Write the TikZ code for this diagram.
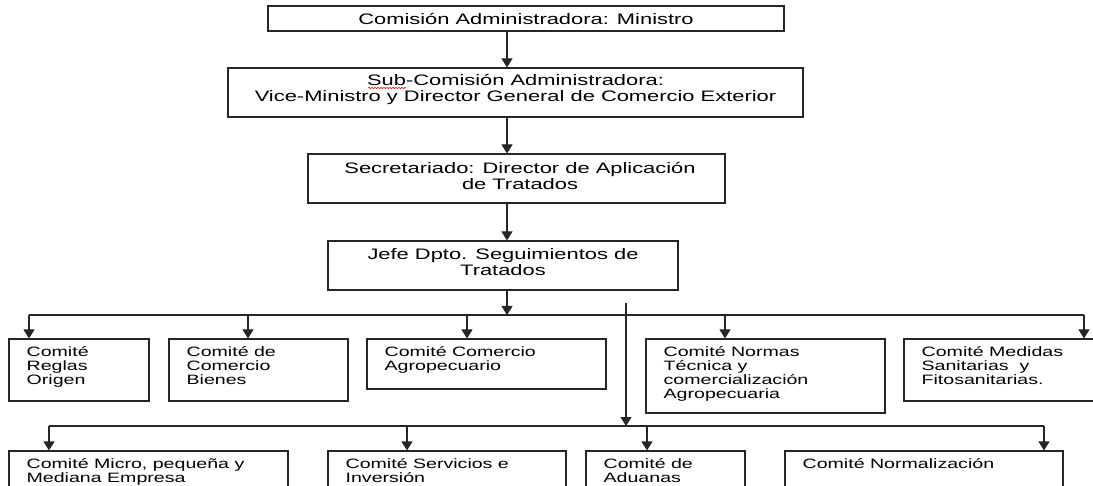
\documentclass[tikz,border=0pt]{standalone}
\usepackage{fontspec}
\setmainfont{Liberation Sans}[FakeStretch=1.44]
\usetikzlibrary{arrows.meta,decorations.pathmorphing}
\begin{document}
\begin{tikzpicture}[x=1pt,y=-1pt,
  box/.style={draw=black!85, line width=1.1pt, inner sep=0pt, minimum width=#1},
  topbox/.style={box=#1},
  toptext/.style={font=\fontsize{15.2}{16}\selectfont, align=center, inner sep=0pt, text=black},
  rowtext/.style={font=\fontsize{13.6}{14}\selectfont, align=left, inner sep=0pt, anchor=north west, text=black},
  conn/.style={draw=black!85, line width=1.1pt},
  arr/.style={conn, -{Triangle[width=11pt,length=9pt]}}]
\useasboundingbox (0,0) rectangle (1093,486);
\clip (0,0) rectangle (1093,486);
\fill[white] (0,0) rectangle (1093,486);

% top chain
\node[topbox=516pt, minimum height=25pt] (t1) at (526,18.5) {};
\node[topbox=575pt, minimum height=49pt] (t2) at (515.5,92.5) {};
\node[topbox=417pt, minimum height=49pt] (t3) at (516.5,178.5) {};
\node[topbox=350pt, minimum height=49pt] (t4) at (503,265.5) {};
\node[toptext] (t1x) at (526,18.5) {Comisión Administradora: Ministro};
\node[toptext] (t2x) at (515.5,89) {Sub-Comisión Administradora:\\Vice-Ministro y Director General de Comercio Exterior};
\node[toptext] (t3x) at (520,176) {Secretariado: Director de Aplicación\\de Tratados};
\node[toptext] (t4x) at (503,262.5) {Jefe Dpto. Seguimientos de\\Tratados};
\draw[red, line width=0.5pt, decorate, decoration={snake, amplitude=0.7pt, segment length=3pt}] (368,88) -- (406,88);

\coordinate (ax) at (507,0);
\draw[arr] (t1.south -| ax) -- (t2.north -| ax);
\draw[arr] (t2.south -| ax) -- (t3.north -| ax);
\draw[arr] (t3.south -| ax) -- (t4.north -| ax);

% first bus
\coordinate (bus1L) at (29,315);
\coordinate (bus1R) at (1084,315);
\draw[conn] (bus1L) -- (bus1R);
\draw[arr] (t4.south -| ax) -- (ax |- bus1L);

% row 1 boxes
\node[box=140pt, minimum height=62pt] (b1) at (79,370) {};
\node[box=179pt, minimum height=62pt] (b2) at (258.5,370) {};
\node[box=239pt, minimum height=50pt] (b3) at (486.5,364) {};
\node[box=239pt, minimum height=74pt] (b4) at (765.5,376) {};
\node[box=192pt, minimum height=62pt] (b5) at (1000,370) {};

\node[rowtext] (b1x) at ([xshift=18pt,yshift=-8pt]b1.north west) {Comité\\Reglas\\Origen};
\node[rowtext] (b2x) at ([xshift=18pt,yshift=-8pt]b2.north west) {Comité de\\Comercio\\Bienes};
\node[rowtext] (b3x) at ([xshift=18pt,yshift=-8pt]b3.north west) {Comité Comercio\\Agropecuario};
\node[rowtext] (b4x) at ([xshift=18pt,yshift=-8pt]b4.north west) {Comité Normas\\Técnica y\\comercialización\\Agropecuaria};
\node[rowtext] (b5x) at ([xshift=18pt,yshift=-8pt]b5.north west) {Comité Medidas\\Sanitarias\ \ y\\Fitosanitarias.};

\coordinate (j2) at (248,315);
\coordinate (j3) at (467,315);
\coordinate (j4) at (725,315);
\draw[arr] (bus1L) -- (bus1L |- b1.north);
\draw[arr] (j2) -- (j2 |- b2.north);
\draw[arr] (j3) -- (j3 |- b3.north);
\draw[arr] (j4) -- (j4 |- b4.north);
\draw[arr] (bus1R) -- (bus1R |- b5.north);

% second bus
\coordinate (v2top) at (626,303);
\coordinate (bus2L) at (49,426);
\coordinate (bus2R) at (1044,426);
\draw[conn] (bus2L) -- (bus2R);
\draw[arr] (v2top) -- (v2top |- bus2L);

% row 2 boxes
\node[box=279pt, minimum height=49pt] (c1) at (148.5,475.5) {};
\node[box=238pt, minimum height=49pt] (c2) at (447,475.5) {};
\node[box=159pt, minimum height=49pt] (c3) at (665.5,475.5) {};
\node[box=278pt, minimum height=49pt] (c4) at (924,475.5) {};

\node[rowtext] (c1x) at ([xshift=18pt,yshift=-8pt]c1.north west) {Comité Micro, pequeña y\\Mediana Empresa};
\node[rowtext] (c2x) at ([xshift=18pt,yshift=-8pt]c2.north west) {Comité Servicios e\\Inversión};
\node[rowtext] (c3x) at ([xshift=18pt,yshift=-8pt]c3.north west) {Comité de\\Aduanas};
\node[rowtext] (c4x) at ([xshift=18pt,yshift=-8pt]c4.north west) {Comité Normalización};

\coordinate (k2) at (407,426);
\coordinate (k3) at (647,426);
\draw[arr] (bus2L) -- (bus2L |- c1.north);
\draw[arr] (k2) -- (k2 |- c2.north);
\draw[arr] (k3) -- (k3 |- c3.north);
\draw[arr] (bus2R) -- (bus2R |- c4.north);
\end{tikzpicture}
\end{document}
